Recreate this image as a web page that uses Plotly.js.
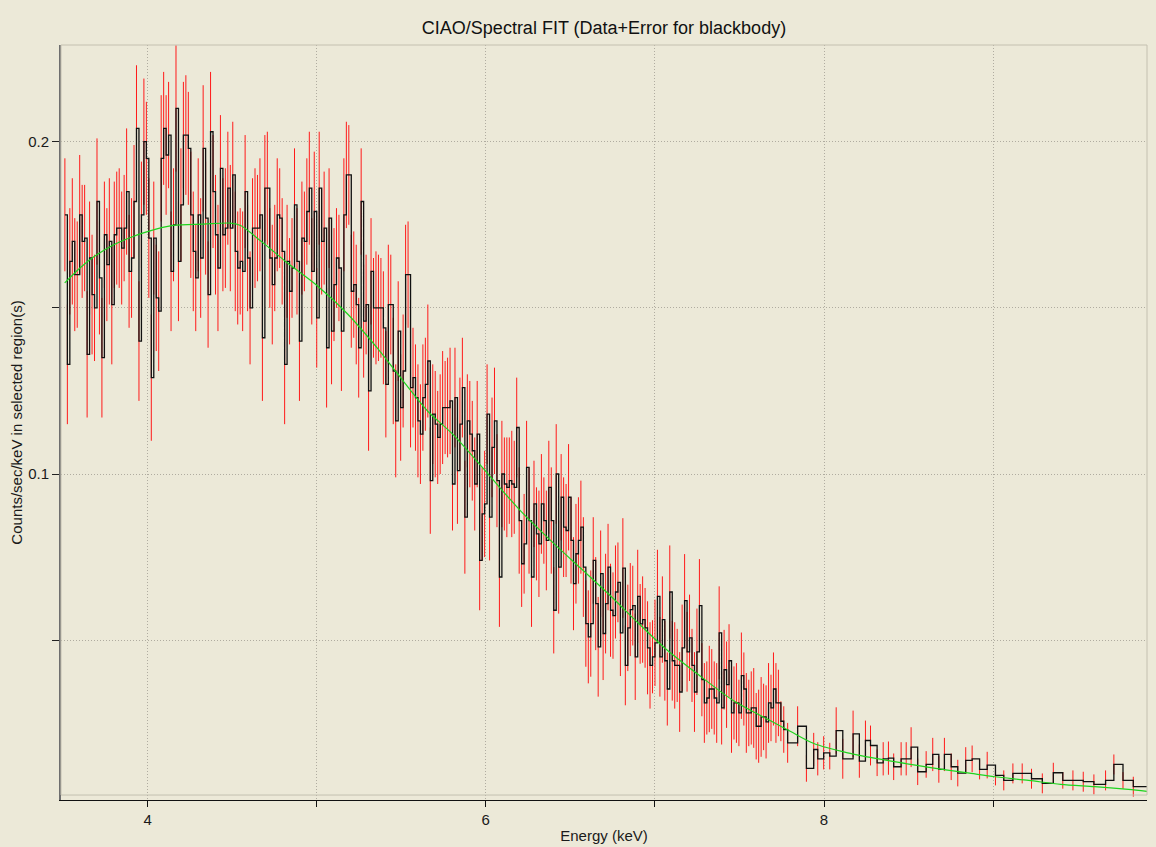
<!DOCTYPE html>
<html>
<head>
<meta charset="utf-8">
<script src="https://cdn.plot.ly/plotly-3.0.1.min.js"></script>
<style>
  html, body { margin: 0; padding: 0; background: #ECE9D8; }
  #chart { width: 1156px; height: 847px; }
</style>
</head>
<body>
<div id="chart"></div>
<script>
// ---- Data ----
// Ungrouped PI channels: first channel energy (keV) and channel width (keV)
const CHAN_E0 = 3.511;
const CHAN_W = 0.0146;

// Count rate per channel (counts/sec/keV), 3.51 - 7.74 keV
const chanRate = [
  0.178,0.133,0.164,0.170,0.160,0.160,0.178,0.170,0.171,0.136,
  0.165,0.154,0.150,0.182,0.159,0.135,0.172,0.163,0.170,0.151,
  0.172,0.174,0.174,0.168,0.174,0.185,0.161,0.165,0.182,0.204,
  0.140,0.178,0.200,0.195,0.171,0.129,0.171,0.153,0.149,0.195,
  0.204,0.196,0.202,0.161,0.175,0.210,0.164,0.181,0.202,0.202,
  0.198,0.178,0.167,0.159,0.178,0.165,0.198,0.177,0.154,0.203,
  0.185,0.172,0.162,0.192,0.172,0.174,0.186,0.174,0.190,0.167,
  0.162,0.164,0.161,0.185,
  0.165,0.150,0.174,0.174,0.174,0.178,0.141,0.186,0.186,0.165,
  0.157,0.165,0.178,0.177,0.167,0.133,0.164,0.155,0.162,0.181,
  0.164,0.140,0.171,0.170,0.179,0.186,0.161,0.179,0.147,0.186,
  0.170,0.174,0.138,0.177,0.143,0.157,0.165,0.162,0.143,0.178,
  0.190,0.190,0.155,0.157,0.151,0.138,0.182,0.146,0.151,0.125,
  0.161,0.150,0.150,0.150,0.150,0.144,0.127,0.151,0.151,0.131,
  0.116,0.143,0.120,0.131,0.160,0.160,0.126,0.129,0.123,0.116,
  0.112,0.123,0.127,0.134,0.098,
  0.118,0.115,0.111,0.115,0.120,0.120,0.120,0.122,0.097,0.123,
  0.101,0.115,0.126,0.087,0.116,0.112,0.107,0.097,0.112,0.074,
  0.088,0.091,0.118,0.087,0.108,0.116,0.098,0.069,0.100,0.097,
  0.096,0.098,0.097,0.096,0.114,0.086,0.073,0.079,0.102,0.086,
  0.069,0.091,0.082,0.079,0.091,0.086,0.080,0.096,0.086,0.059,
  0.100,0.072,0.093,0.084,0.083,0.093,0.080,0.067,0.076,0.080,
  0.084,0.072,0.055,0.051,0.055,0.074,0.061,0.048,0.070,0.052,
  0.061,0.072,0.059,
  0.0574,0.0645,0.0674,0.0522,0.0717,0.0424,0.0537,0.0592,0.0604,0.0450,
  0.0632,0.0549,0.0562,0.0537,0.0477,0.0424,0.0450,0.0492,0.0632,0.0450,
  0.0562,0.0438,0.0353,0.0645,0.0438,0.0424,0.0424,0.0344,0.0477,0.0619,
  0.0465,0.0507,0.0424,0.0344,0.0465,0.0604,0.0381,0.0311,0.0326,0.0353,
  0.0353,0.0326,0.0311,0.0522,0.0296,0.0411,0.0366,0.0438,0.0281,0.0311,
  0.0311,0.0281,0.0393,0.0353,0.0281,0.0281,0.0296,0.0296,0.0241,0.0241,
  0.0269,0.0269,0.0254,0.0311,0.0296,0.0353,0.0311,0.0311
];

// 1-sigma error per channel
const chanErr = [
  0.017,0.018,0.016,0.019,0.017,0.016,0.018,0.017,0.016,0.019,
  0.017,0.018,0.016,0.019,0.017,0.018,0.016,0.017,0.019,0.018,
  0.016,0.017,0.018,0.017,0.016,0.019,0.017,0.018,0.017,0.019,
  0.018,0.016,0.019,0.017,0.018,0.019,0.017,0.016,0.018,0.019,
  0.017,0.018,0.016,0.018,0.017,0.019,0.018,0.017,0.016,0.018,
  0.017,0.019,0.018,0.016,0.017,0.018,0.019,0.017,0.016,0.018,
  0.017,0.018,0.019,0.016,0.017,0.018,0.017,0.019,0.016,0.018,
  0.017,0.016,0.018,0.017,
  0.016,0.017,0.015,0.018,0.016,0.017,0.019,0.016,0.017,0.015,
  0.018,0.016,0.017,0.015,0.016,0.018,0.017,0.016,0.015,0.017,
  0.016,0.018,0.017,0.015,0.016,0.017,0.016,0.018,0.015,0.017,
  0.016,0.017,0.018,0.015,0.016,0.017,0.015,0.016,0.018,0.017,
  0.016,0.015,0.017,0.016,0.018,0.015,0.016,0.017,0.015,0.018,
  0.016,0.015,0.017,0.016,0.015,0.017,0.016,0.018,0.015,0.016,
  0.017,0.015,0.016,0.017,0.015,0.016,0.018,0.015,0.016,0.017,
  0.015,0.016,0.014,0.017,0.016,
  0.015,0.016,0.014,0.015,0.017,0.014,0.015,0.016,0.014,0.015,
  0.016,0.014,0.015,0.017,0.014,0.016,0.015,0.014,0.016,0.015,
  0.014,0.016,0.015,0.013,0.015,0.016,0.014,0.015,0.016,0.014,
  0.015,0.013,0.016,0.014,0.015,0.016,0.013,0.015,0.014,0.016,
  0.015,0.013,0.014,0.016,0.015,0.013,0.015,0.014,0.016,0.013,
  0.015,0.014,0.013,0.015,0.014,0.016,0.013,0.014,0.015,0.013,
  0.014,0.015,0.013,0.014,0.016,0.013,0.014,0.015,0.013,0.014,
  0.015,0.013,0.014,
  0.013,0.014,0.012,0.013,0.015,0.012,0.013,0.014,0.012,0.013,
  0.014,0.012,0.013,0.012,0.014,0.013,0.011,0.013,0.014,0.012,
  0.013,0.012,0.011,0.014,0.012,0.013,0.011,0.012,0.013,0.014,
  0.012,0.013,0.011,0.012,0.013,0.014,0.011,0.012,0.011,0.013,
  0.012,0.011,0.012,0.014,0.011,0.012,0.013,0.011,0.012,0.011,
  0.012,0.010,0.013,0.011,0.012,0.010,0.011,0.012,0.010,0.011,
  0.012,0.010,0.011,0.012,0.010,0.011,0.012,0.010
];

// Grouped bins above ~7.75 keV: lower edge (keV), rate, error
const groupE = [
  7.745,7.762,7.785,7.844,7.896,7.939,7.963,7.998,8.034,8.072,
  8.111,8.172,8.209,8.245,8.275,8.314,8.350,8.381,8.412,8.456,
  8.486,8.515,8.554,8.604,8.643,8.679,8.712,8.752,8.791,8.838,
  8.876,8.920,8.965,9.014,9.063,9.117,9.172,9.227,9.291,9.356,
  9.412,9.472,9.533,9.596,9.665,9.714,9.768,9.829
];
const groupRate = [
  0.0256,0.0231,0.0191,0.0241,0.0114,0.0171,0.0143,0.0161,0.0151,0.0228,
  0.0143,0.0218,0.0136,0.0198,0.0183,0.0131,0.0143,0.0145,0.0119,0.0143,
  0.0143,0.0178,0.0104,0.0126,0.0156,0.0111,0.0156,0.0119,0.0100,0.0138,
  0.0143,0.0111,0.0124,0.0093,0.0078,0.0099,0.0099,0.0083,0.0069,0.0101,
  0.0078,0.0078,0.0074,0.0066,0.0078,0.0126,0.0078,0.0059
];
const groupErr = [
  0.006,0.007,0.006,0.006,0.004,0.005,0.005,0.005,0.004,0.007,
  0.006,0.007,0.005,0.006,0.006,0.004,0.005,0.005,0.004,0.005,
  0.005,0.006,0.004,0.004,0.005,0.004,0.005,0.004,0.004,0.004,
  0.004,0.003,0.004,0.003,0.003,0.003,0.003,0.003,0.003,0.003,
  0.0025,0.003,0.003,0.003,0.003,0.003,0.0025,0.003
];
const groupEnd = 9.912;

// Blackbody model curve
const modelE = [
  3.51,3.60,3.68,3.80,3.88,3.99,4.15,4.33,4.49,4.55,4.60,4.66,4.74,4.82,5.00,
  5.18,5.36,5.47,5.61,5.67,5.81,6.01,6.20,6.40,6.56,6.74,6.88,7.07,7.27,7.47,
  7.67,7.80,7.94,8.14,8.34,8.54,8.73,8.87,9.01,9.21,9.40,9.60,9.80,9.91
];
const modelRate = [
  0.1575,0.1620,0.1653,0.1690,0.1708,0.1728,0.1748,0.1752,0.1755,0.1748,0.1730,0.1705,0.1672,0.1638,0.1568,
  0.1483,0.1378,0.1307,0.1217,0.1182,0.1117,0.1002,0.0892,0.0792,0.0717,0.0632,0.0562,0.0471,0.0391,0.0316,
  0.0261,0.0226,0.0189,0.0161,0.0141,0.0124,0.0109,0.0099,0.0089,0.0078,0.0066,0.0059,0.0051,0.0045
];

// Axis ticks
const xTickVals = [4,5,6,7,8,9];
const xTickText = ['4','','6','','8',''];
const yTickVals = [0.05,0.1,0.15,0.2];
const yTickText = ['','0.1','','0.2'];

// ---- Build traces ----
const chanE = chanRate.map((_, i) => CHAN_E0 + i * CHAN_W);
const binE = chanE.concat(groupE);
const binRate = chanRate.concat(groupRate);
const binErr = chanErr.concat(groupErr);

const errTrace = {
  type: 'scatter', mode: 'markers',
  x: binE, y: binRate,
  marker: { size: 1, color: 'rgba(0,0,0,0)' },
  error_y: { type: 'data', array: binErr, visible: true, color: '#ff1a1a', thickness: 1, width: 0 },
  hoverinfo: 'skip'
};
const stepTrace = {
  type: 'scatter', mode: 'lines',
  x: binE.concat([groupEnd]),
  y: binRate.concat([groupRate[groupRate.length - 1]]),
  line: { shape: 'hv', color: '#111111', width: 1.3 },
  hoverinfo: 'skip'
};
const modelTrace = {
  type: 'scatter', mode: 'lines',
  x: modelE, y: modelRate,
  line: { shape: 'spline', smoothing: 0.8, color: '#1ed41e', width: 1.2 },
  hoverinfo: 'skip'
};

const font = 'Liberation Sans, Arial, sans-serif';
const layout = {
  width: 1156, height: 847,
  paper_bgcolor: '#ECE9D8', plot_bgcolor: '#ECE9D8',
  margin: { l: 61, r: 9, t: 45, b: 47 },
  showlegend: false,
  title: {
    text: 'CIAO/Spectral FIT (Data+Error for blackbody)',
    font: { family: font, size: 18, color: '#111' },
    xref: 'paper', x: 0.5, xanchor: 'center',
    yref: 'container', y: 0.967, yanchor: 'middle'
  },
  xaxis: {
    range: [3.488, 9.91],
    tickvals: xTickVals, ticktext: xTickText,
    showgrid: true, gridcolor: '#b0aca0', griddash: '1px,2px', gridwidth: 1,
    zeroline: false, showline: true, linecolor: '#111', linewidth: 1,
    ticks: 'outside', ticklen: 6, tickcolor: '#111',
    tickfont: { family: font, size: 15, color: '#1a1a1a' },
    title: { text: 'Energy (keV)', font: { family: font, size: 15, color: '#1a1a1a' }, standoff: 3 }
  },
  yaxis: {
    range: [0.0019, 0.2291],
    tickvals: yTickVals, ticktext: yTickText,
    showgrid: true, gridcolor: '#b0aca0', griddash: '1px,2px', gridwidth: 1,
    zeroline: false, showline: true, linecolor: '#6e6e6e', linewidth: 2,
    ticks: 'outside', ticklen: 7, tickcolor: '#222',
    tickfont: { family: font, size: 15, color: '#1a1a1a' },
    title: { text: 'Counts/sec/keV in selected region(s)', font: { family: font, size: 15, color: '#1a1a1a' }, standoff: 2 }
  },
  shapes: [
    { type: 'rect', xref: 'paper', yref: 'paper', x0: 0, x1: 1, y0: 0.0066, y1: 1,
      line: { color: '#c4c0b0', width: 1 }, fillcolor: 'rgba(0,0,0,0)' }
  ]
};

Plotly.newPlot('chart', [errTrace, stepTrace, modelTrace], layout, { displayModeBar: false, staticPlot: true });
</script>
</body>
</html>
